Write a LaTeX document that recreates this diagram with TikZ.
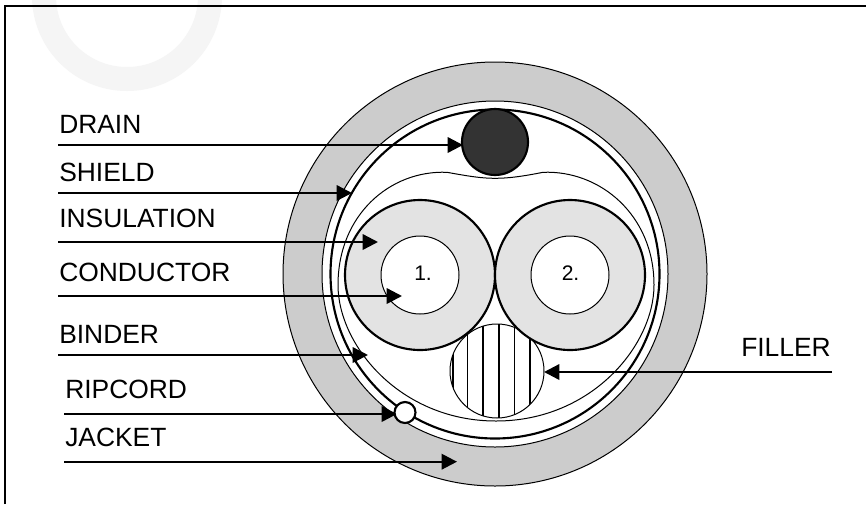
\documentclass[tikz,border=0pt]{standalone}
\usepackage{fontspec}
\setmainfont{Liberation Sans}
\usetikzlibrary{arrows.meta}
\definecolor{jacketgray}{HTML}{CCCCCC}
\definecolor{insgray}{HTML}{E3E3E3}
\definecolor{draingray}{HTML}{333333}
\definecolor{marklight}{HTML}{F5F5F5}
\tikzset{
  thinring/.style={draw=black,line width=0.75pt},
  thickring/.style={draw=black,line width=1.6pt},
  labeltext/.style={font=\fontsize{19.8pt}{22pt}\selectfont,anchor=base west,inner sep=0pt,text=black},
  coretext/.style={font=\fontsize{15.8pt}{18pt}\selectfont,anchor=base west,inner sep=0pt,text=black},
  pointer/.style={draw=black,line width=1.8pt,-{Triangle[length=11.5pt,width=11.5pt]}},
  stripe/.style={draw=black,line width=1.2pt}
}
\begin{document}
\begin{tikzpicture}[x=0.75pt,y=-0.75pt]
\useasboundingbox (0,0) rectangle (866,504);
\fill[white] (0,0) rectangle (866,504);
% watermark
\begin{scope}
\clip (0,0) rectangle (866,504);
\fill[marklight,even odd rule] (127,-4) circle[radius=95] (127,-4) circle[radius=71];
\end{scope}
% frame
\draw[black,line width=1.9pt] (5,504) -- (5,6) -- (866,6);
% jacket and shield rings
\path[thinring,fill=jacketgray] (495,274) circle[radius=212];
\path[thinring,fill=white] (495,274) circle[radius=173];
\path[thickring] (495,274) circle[radius=164.5];
% drain
\path[thickring,fill=draingray] (495,142) circle[radius=33];
% binder
\path[thinring] (447,172.3)
  .. controls (470,176.5) and (482,178.3) .. (495,178.3)
  .. controls (508,178.3) and (522,176.5) .. (543,172.3)
  .. controls (600,170) and (654,215) .. (654,285)
  .. controls (654,345) and (592,421) .. (496,421)
  .. controls (400,421) and (338,345) .. (338,285)
  .. controls (338,215) and (390,170) .. (447,172.3) -- cycle;
% filler
\path[thinring] (497,371) circle[radius=47];
\begin{scope}
\clip (497,371) circle[radius=47];
\draw[stripe] (453,320) -- (453,420);
\draw[stripe] (467.5,320) -- (467.5,420);
\draw[stripe] (483,320) -- (483,420);
\draw[stripe] (499,320) -- (499,420);
\draw[stripe] (514.5,320) -- (514.5,420);
\draw[stripe] (530,320) -- (530,420);
\end{scope}
% insulated conductors
\path[thickring,fill=insgray] (420,275) circle[radius=75];
\path[thickring,fill=insgray] (570,275) circle[radius=75];
\path[thinring,fill=white] (420,275) circle[radius=39];
\path[thinring,fill=white] (570,275) circle[radius=39];
\node[coretext] (one) at (414,280) {1.};
\node[coretext] (two) at (561.5,280) {2.};
% labels
\node[labeltext] (drain) at (59,133) {DRAIN};
\node[labeltext] (shield) at (59,181.7) {SHIELD};
\node[labeltext] (insulation) at (59,227) {INSULATION};
\node[labeltext] (conductor) at (59,281.7) {CONDUCTOR};
\node[labeltext] (binder) at (59,343) {BINDER};
\node[labeltext] (ripcord) at (65,398) {RIPCORD};
\node[labeltext] (jacket) at (65,446) {JACKET};
\node[labeltext] (filler) at (741,356) {FILLER};
% connector ends
\coordinate (drainA) at (58,145);   \coordinate (drainB) at (463,145);
\coordinate (shieldA) at (58,193);  \coordinate (shieldB) at (352,193);
\coordinate (insA) at (58,242);     \coordinate (insB) at (378,242);
\coordinate (condA) at (58,296);    \coordinate (condB) at (402,296);
\coordinate (bindA) at (58,355);    \coordinate (bindB) at (368,355);
\coordinate (ripA) at (64,414);     \coordinate (ripB) at (397,414);
\coordinate (jackA) at (64,461.7);  \coordinate (jackB) at (457,461.7);
\coordinate (fillA) at (832,372);   \coordinate (fillB) at (544,372);
\draw[pointer] (drainA) -- (drainB);
\draw[pointer] (shieldA) -- (shieldB);
\draw[pointer] (insA) -- (insB);
\draw[pointer] (condA) -- (condB);
\draw[pointer] (bindA) -- (bindB);
\draw[pointer] (ripA) -- (ripB);
\draw[pointer] (jackA) -- (jackB);
\draw[pointer] (fillA) -- (fillB);
% ripcord
\path[thickring,fill=white] (405,412.5) circle[radius=10.5];
\end{tikzpicture}
\end{document}
